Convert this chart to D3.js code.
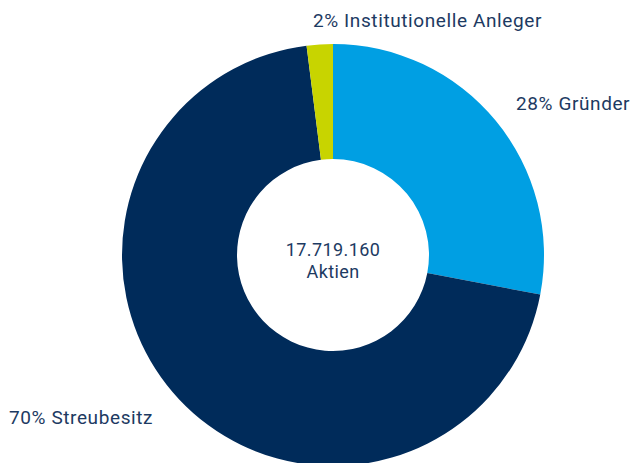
<!DOCTYPE html>
<html>
<head>
<meta charset="utf-8">
<script src="https://cdn.jsdelivr.net/npm/d3@7"></script>
<style>
  body { margin: 0; background: #fff; }
  text { font-family: Roboto, "Noto Sans", sans-serif; fill: #1d3a62; }
</style>
</head>
<body>
<div id="chart"></div>
<script>
const labels = ["Gründer", "Streubesitz", "Institutionelle Anleger"];
const shares = [28, 70, 2];
const colors = ["#009fe3", "#002b5a", "#c8d400"];
const centerLines = ["17.719.160", "Aktien"];

const width = 635, height = 463;
const cx = 333, cy = 255, outerR = 211, innerR = 96;

const svg = d3.select("#chart").append("svg")
    .attr("width", width)
    .attr("height", height);

const pie = d3.pie().sort(null).value(d => d)(shares);
const arc = d3.arc().innerRadius(innerR).outerRadius(outerR);

const g = svg.append("g").attr("transform", `translate(${cx},${cy})`);

g.selectAll("path")
    .data(pie)
    .join("path")
    .attr("d", arc)
    .attr("fill", (d, i) => colors[i]);

// slice labels, placed by hand like the original layout
const labelPos = [
    {x: 516, y: 110},
    {x: 9, y: 424},
    {x: 313, y: 27}
];

svg.append("g")
    .selectAll("text")
    .data(pie)
    .join("text")
    .attr("x", (d, i) => labelPos[i].x)
    .attr("y", (d, i) => labelPos[i].y)
    .style("font-size", "19px")
    .style("letter-spacing", "0.6px")
    .text((d, i) => shares[i] + "% " + labels[i]);

g.selectAll("text.center")
    .data(centerLines)
    .join("text")
    .attr("class", "center")
    .attr("text-anchor", "middle")
    .attr("y", (d, i) => 1 + i * 22)
    .style("font-size", "18px")
    .style("letter-spacing", "0.4px")
    .text(d => d);
</script>
</body>
</html>
